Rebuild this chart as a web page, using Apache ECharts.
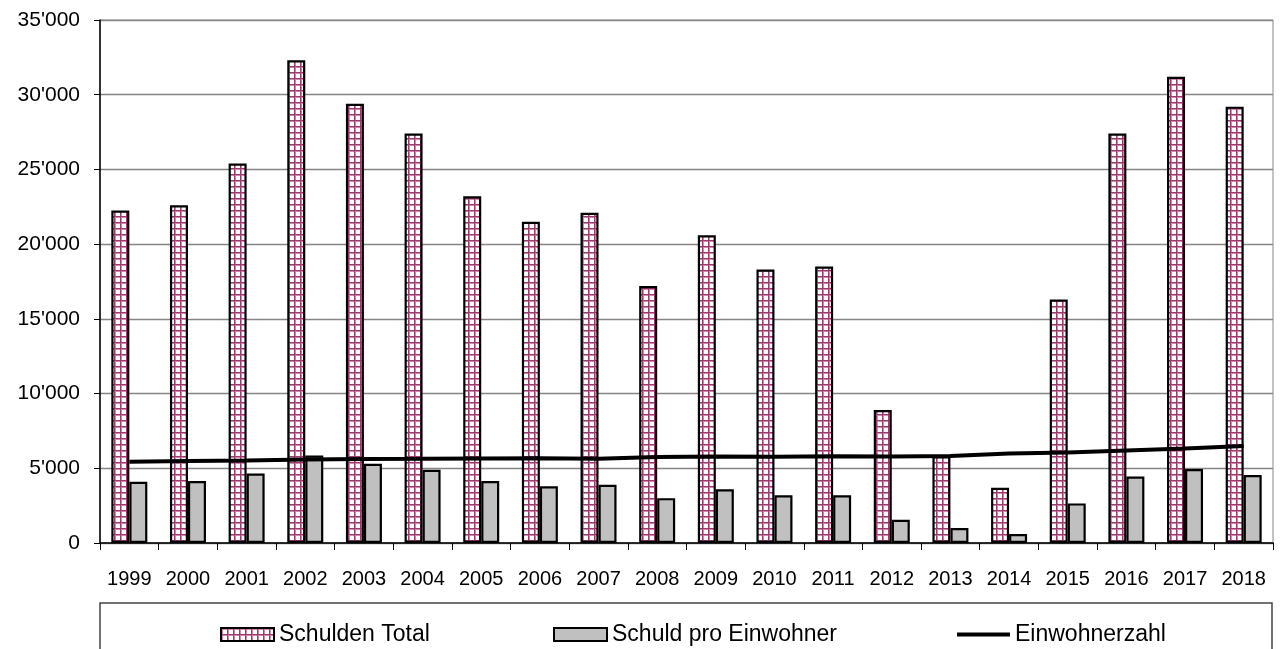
<!DOCTYPE html>
<html>
<head>
<meta charset="utf-8">
<script src="https://cdn.jsdelivr.net/npm/echarts@6/dist/echarts.min.js"></script>
<style>
  html, body { margin: 0; padding: 0; background: #fff; }
  #chart { width: 1286px; height: 649px; }
</style>
</head>
<body>
<div id="chart"></div>
<script>
// Jahre (Kategorien)
const years = ['1999','2000','2001','2002','2003','2004','2005','2006','2007','2008',
               '2009','2010','2011','2012','2013','2014','2015','2016','2017','2018'];

// Schulden Total
const schuldenTotal = [22250, 22600, 25400, 32300, 29400, 27400, 23200, 21500, 22100, 17200,
                       20600, 18300, 18500, 8900, 5800, 3700, 16300, 27400, 31200, 29200];

// Schuld pro Einwohner
const schuldProEinwohner = [4100, 4150, 4650, 5850, 5300, 4900, 4150, 3800, 3900, 3000,
                            3600, 3200, 3200, 1550, 1000, 600, 2650, 4450, 4950, 4550];

// Einwohnerzahl
const einwohnerzahl = [5440, 5490, 5520, 5590, 5620, 5630, 5650, 5670, 5630, 5750,
                       5790, 5770, 5800, 5790, 5820, 5990, 6050, 6190, 6320, 6490];

const seriesNames = ['Schulden Total', 'Schuld pro Einwohner', 'Einwohnerzahl'];

// Kariertes Füllmuster (weiss mit magentafarbenen Linien, Raster 6 px)
function makeCheckPattern() {
  const c = document.createElement('canvas');
  c.width = 6; c.height = 6;
  const g = c.getContext('2d');
  g.fillStyle = '#ffffff';
  g.fillRect(0, 0, 6, 6);
  g.fillStyle = '#c98aab';
  g.fillRect(0, 1, 6, 1);
  g.fillRect(1, 0, 1, 6);
  g.fillStyle = '#9d3b6d';
  g.fillRect(0, 0, 6, 1);
  g.fillRect(0, 0, 1, 6);
  return c;
}
const checkFill = { image: makeCheckPattern(), repeat: 'repeat' };

function fmtApos(v) {
  return String(Math.round(v)).replace(/\B(?=(\d{3})+(?!\d))/g, "'");
}

const FONT = 'Liberation Sans, Arial, sans-serif';
const chart = echarts.init(document.getElementById('chart'), null, { renderer: 'canvas' });

const legendBase = {
  top: 618,
  itemWidth: 53,
  itemHeight: 13,
  itemGap: 6,
  icon: 'rect',
  textStyle: { fontFamily: FONT, fontSize: 23, color: '#000', padding: [0, 0, 0, 0] },
  itemStyle: { borderColor: '#000', borderWidth: 2 },
  selectedMode: false
};

chart.setOption({
  animation: false,
  backgroundColor: '#ffffff',
  grid: {
    left: 100, right: 13, top: 20, bottom: 106,
    show: true, borderColor: '#888888', borderWidth: 1, backgroundColor: 'transparent'
  },
  legend: [
    Object.assign({}, legendBase, { left: 215, data: [seriesNames[0]] }),
    Object.assign({}, legendBase, { left: 548, data: [seriesNames[1]] }),
    Object.assign({}, legendBase, {
      left: 952, itemHeight: 4,
      data: [{ name: seriesNames[2], icon: 'rect' }],
      itemStyle: { borderWidth: 0, color: '#000' }
    })
  ],
  graphic: [{
    type: 'rect',
    shape: { x: 100, y: 603, width: 1172, height: 60 },
    style: { fill: 'none', stroke: '#444', lineWidth: 1.5 },
    silent: true
  }],
  xAxis: {
    type: 'category',
    data: years,
    axisLine: { lineStyle: { color: '#000', width: 1.5 } },
    axisTick: { show: true, length: 7, lineStyle: { color: '#000', width: 1 } },
    axisLabel: { fontFamily: FONT, fontSize: 20, color: '#000', margin: 26, interval: 0 },
    splitLine: { show: false }
  },
  yAxis: {
    type: 'value',
    min: 0, max: 35000, interval: 5000,
    axisLine: { show: true, lineStyle: { color: '#000', width: 1.5 } },
    axisTick: { show: true, length: 6, lineStyle: { color: '#000', width: 1 } },
    axisLabel: { fontFamily: FONT, fontSize: 21, color: '#000', margin: 20, formatter: fmtApos },
    splitLine: { show: true, lineStyle: { color: '#858585', width: 1.4 } }
  },
  series: [
    {
      name: seriesNames[0],
      type: 'bar',
      data: schuldenTotal,
      barWidth: 18,
      barGap: '0%',
      itemStyle: { color: checkFill, borderColor: '#000', borderWidth: 2.2 }
    },
    {
      name: seriesNames[1],
      type: 'bar',
      data: schuldProEinwohner,
      barWidth: 18,
      barGap: '0%',
      itemStyle: { color: '#c0c0c0', borderColor: '#000', borderWidth: 2.2 }
    },
    {
      name: seriesNames[2],
      type: 'line',
      data: einwohnerzahl,
      symbol: 'none',
      showSymbol: false,
      z: 5,
      itemStyle: { color: '#000' },
      lineStyle: { color: '#000', width: 4 }
    }
  ]
});
</script>
</body>
</html>
